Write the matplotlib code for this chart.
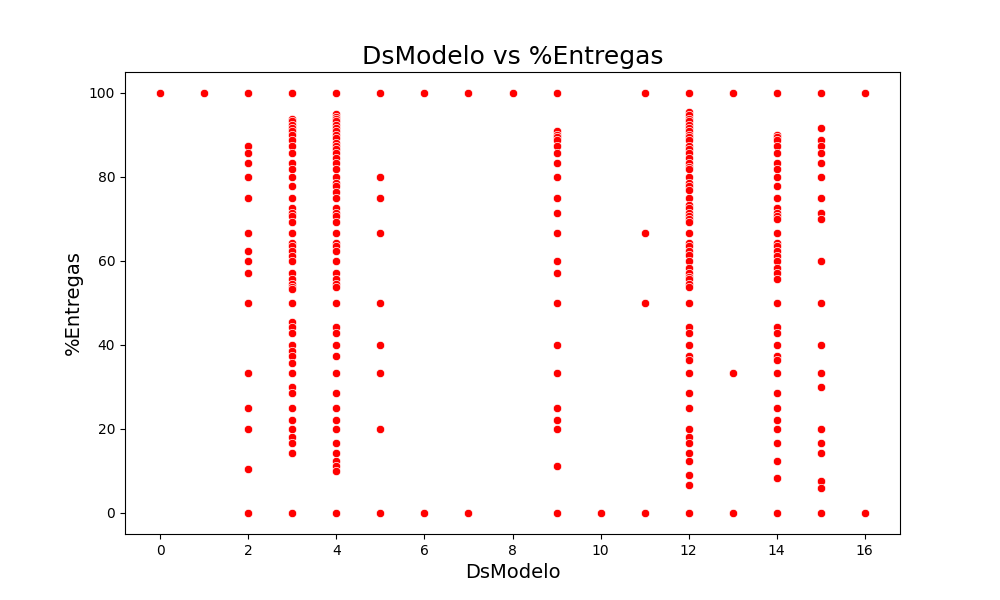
import matplotlib
matplotlib.use('Agg')
import matplotlib.pyplot as plt
import seaborn as sns
import pandas as pd

# valores, por modelo
m0 = [100]
m1 = [100]
m2 = [100, 87.5, 85.7, 83.3, 80, 75, 66.7, 62.5, 60, 57.1, 50, 33.3, 25, 20, 10.5, 0]
m3 = [100, 93.8, 93.3, 92.3, 91.7, 90.9, 90, 88.9, 87.5, 85.7, 83.3, 81.8, 80, 77.8,
      75, 72.7, 71.4, 70.6, 69.2, 66.7, 64.3, 63.6, 62.5, 61.1, 60, 57.1, 55.6, 54.5,
      53.8, 53.3, 50, 45.5, 44.4, 42.9, 40, 38.5, 37.5, 35.7, 33.3, 30, 28.6, 25, 22.2,
      20, 18.2, 16.7, 14.3, 0]
m4 = [100, 95, 94.4, 93.8, 93.3, 92.3, 91.7, 90.9, 90, 89.3, 88.2, 87.5, 86.7, 85.7,
      84.6, 83.3, 81.8, 80, 78.6, 77.8, 76.5, 75, 72.7, 71.4, 70.6, 69.2, 66.7, 64.3,
      63.6, 62.5, 60, 57.1, 55.6, 54.5, 53.8, 50, 44.4, 42.9, 40, 37.5, 33.3, 28.6, 25,
      22.2, 20, 16.7, 14.3, 12.5, 11.1, 10, 0]
m5 = [100, 80, 75, 66.7, 50, 40, 33.3, 20, 0]
m6 = [100, 0]
m7 = [100, 0]
m8 = [100]
m9 = [100, 90.9, 90, 89.5, 88.9, 87.5, 85.7, 83.3, 80, 75, 71.4, 66.7, 60, 57.1, 50,
      40, 33.3, 25, 22.2, 20, 11.1, 0]
m10 = [0]
m11 = [100, 66.7, 50, 0]
m12 = [100, 95.5, 94.7, 93.8, 93.3, 92.3, 91.7, 90.9, 90, 89.5, 88.9, 87.5, 86.7, 85.7,
       84.6, 83.3, 82.4, 81.8, 80, 78.6, 77.8, 76.9, 75, 73.3, 72.7, 71.4, 70.6, 70,
       69.2, 66.7, 64.3, 63.6, 62.5, 61.5, 60, 58.3, 57.1, 56.3, 55.6, 54.5, 53.8, 50,
       44.4, 42.9, 40, 37.5, 36.4, 33.3, 28.6, 25, 20, 18.2, 16.7, 14.3, 12.5, 9.1, 6.7, 0]
m13 = [100, 33.3, 0]
m14 = [100, 90, 89.5, 88.9, 87.5, 85.7, 83.3, 81.8, 80, 77.8, 75, 72.7, 71.4, 70.6, 70,
       66.7, 64.3, 63.6, 62.5, 61.1, 60, 58.3, 57.1, 55.6, 50, 44.4, 42.9, 40, 37.5,
       36.4, 33.3, 28.6, 25, 22.2, 20, 16.7, 12.5, 8.3, 0]
m15 = [100, 91.7, 88.9, 87.5, 85.7, 83.3, 80, 75, 71.4, 70, 60, 50, 40, 33.3, 30, 20,
       16.7, 14.3, 7.7, 5.9, 0]
m16 = [100, 0]

modelos = [m0, m1, m2, m3, m4, m5, m6, m7, m8, m9, m10, m11, m12, m13, m14, m15, m16]

xs = []
ys = []
for i, vals in enumerate(modelos):
    for v in vals:
        xs.append(i)
        ys.append(v)
df = pd.DataFrame({'DsModelo': xs, '%Entregas': ys})

plt.figure(figsize=(10, 6))
sns.scatterplot(data=df, x='DsModelo', y='%Entregas', color='red')
plt.title('DsModelo vs %Entregas', fontsize=18)
plt.xlabel('DsModelo', fontsize=14)
plt.ylabel('%Entregas', fontsize=14)
plt.savefig('out.png', dpi=100)
